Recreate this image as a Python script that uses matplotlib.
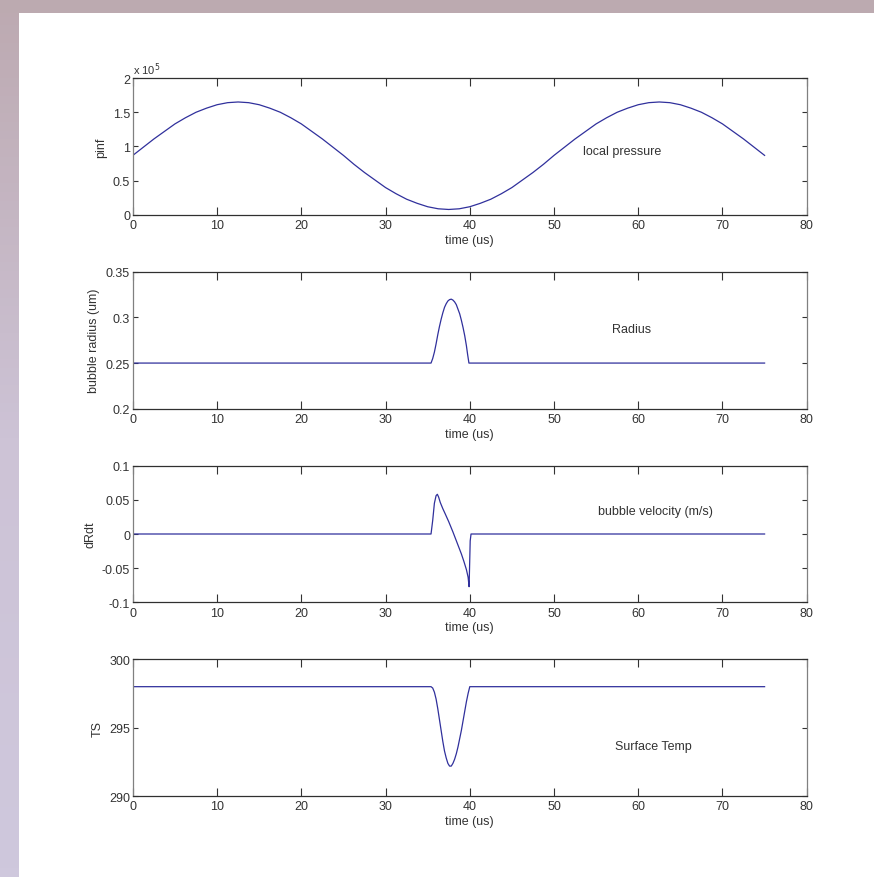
import matplotlib
matplotlib.use('Agg')
import matplotlib.pyplot as plt
import numpy as np
from matplotlib.colors import LinearSegmentedColormap
from matplotlib.ticker import FuncFormatter

plt.rcParams['font.family'] = ['Liberation Sans Narrow', 'DejaVu Sans Condensed', 'Liberation Sans', 'DejaVu Sans']

# local pressure (pinf), read every 1.25 us
t_p = [i * 1.25 for i in range(61)]
pinf = [0.87e5, 0.99e5, 1.11e5, 1.22e5, 1.33e5, 1.42e5, 1.50e5, 1.56e5, 1.61e5, 1.64e5,
        1.65e5, 1.64e5, 1.61e5, 1.56e5, 1.50e5, 1.42e5, 1.33e5, 1.22e5, 1.11e5, 0.99e5,
        0.87e5, 0.74e5, 0.62e5, 0.51e5, 0.40e5, 0.31e5, 0.23e5, 0.17e5, 0.12e5, 0.09e5,
        0.08e5, 0.09e5, 0.12e5, 0.17e5, 0.23e5, 0.31e5, 0.40e5, 0.51e5, 0.62e5, 0.74e5,
        0.87e5, 0.99e5, 1.11e5, 1.22e5, 1.33e5, 1.42e5, 1.50e5, 1.56e5, 1.61e5, 1.64e5,
        1.65e5, 1.64e5, 1.61e5, 1.56e5, 1.50e5, 1.42e5, 1.33e5, 1.22e5, 1.11e5, 0.99e5,
        0.87e5]

# bubble radius
t_r = [0, 35.4, 35.6, 35.8, 36.0, 36.2, 36.4, 36.6, 36.8, 37.0, 37.2, 37.4, 37.6, 37.8,
       38.0, 38.2, 38.4, 38.6, 38.8, 39.0, 39.2, 39.4, 39.6, 39.75, 39.9, 75]
radius = [0.25, 0.25, 0.255, 0.262, 0.271, 0.281, 0.290, 0.298, 0.305, 0.311, 0.315,
          0.318, 0.3195, 0.320, 0.319, 0.317, 0.314, 0.309, 0.304, 0.297, 0.289,
          0.280, 0.269, 0.259, 0.25, 0.25]

# bubble velocity
t_v = [0, 35.4, 35.6, 35.8, 36.0, 36.15, 36.3, 36.5, 36.8, 37.1, 37.5, 38.0, 38.5,
       39.0, 39.3, 39.6, 39.8, 39.92, 40.05, 40.15, 75]
dRdt = [0, 0, 0.02, 0.045, 0.056, 0.058, 0.054, 0.046, 0.037, 0.029, 0.018, 0.003,
        -0.013, -0.029, -0.040, -0.052, -0.063, -0.077, -0.01, 0.0, 0.0]

# surface temperature
t_s = [0, 35.4, 35.6, 35.8, 36.0, 36.2, 36.4, 36.6, 36.8, 37.0, 37.2, 37.4, 37.6,
       37.8, 38.0, 38.2, 38.4, 38.6, 38.8, 39.0, 39.2, 39.4, 39.6, 39.8, 40.0, 75]
TS = [298, 298, 297.9, 297.6, 297.1, 296.4, 295.6, 294.8, 294.0, 293.3, 292.8, 292.4,
      292.2, 292.2, 292.4, 292.7, 293.1, 293.6, 294.2, 294.8, 295.5, 296.2, 296.9,
      297.5, 298, 298]

panels = [
    (t_p, pinf, 'pinf', (0, 2e5), [0, 0.5e5, 1e5, 1.5e5, 2e5], 'local pressure', (53.4, 0.93e5)),
    (t_r, radius, 'bubble radius (um)', (0.2, 0.35), [0.2, 0.25, 0.3, 0.35], 'Radius', (56.9, 0.287)),
    (t_v, dRdt, 'dRdt', (-0.1, 0.1), [-0.1, -0.05, 0, 0.05, 0.1], 'bubble velocity (m/s)', (55.2, 0.033)),
    (t_s, TS, 'TS', (290, 300), [290, 295, 300], 'Surface Temp', (57.2, 293.7)),
]

fig, axes = plt.subplots(4, 1, figsize=(8.74, 8.78), dpi=100)
fig.subplots_adjust(left=0.152, right=0.923, top=0.910, bottom=0.092, hspace=0.415)

# purple frame on the top and left
bg = fig.add_axes([0, 0, 0.0217, 1], zorder=-5)
cmap = LinearSegmentedColormap.from_list('side', ['#cfc8dd', '#cdc3d6', '#bdaab1'])
bg.imshow(np.linspace(0, 1, 100).reshape(-1, 1), aspect='auto', cmap=cmap, origin='lower')
bg.axis('off')
top = fig.add_axes([0, 1 - 14 / 878, 1, 14 / 878], zorder=-5)
top.set_facecolor('#bcaab0')
top.set_xticks([])
top.set_yticks([])
for s in top.spines.values():
    s.set_visible(False)

txt = '#333333'
for ax, (t, y, ylab, ylim, yticks, note, pos) in zip(axes, panels):
    ax.plot(t, y, color='#30309c', lw=0.9)
    ax.set_xlim(0, 80)
    ax.set_ylim(*ylim)
    ax.set_xticks(range(0, 81, 10))
    ax.set_yticks(yticks)
    ax.tick_params(axis='x', direction='in', top=True, length=5.5, width=0.8,
                   labelsize=9, colors=txt, pad=3)
    ax.tick_params(axis='y', direction='in', right=True, length=3.5, width=0.8,
                   labelsize=9, colors=txt, pad=2)
    for side in ['top', 'bottom']:
        ax.spines[side].set_color('#303030')
    for side in ['left', 'right']:
        ax.spines[side].set_color('#808080')
    for s in ax.spines.values():
        s.set_linewidth(0.9)
    ax.set_xlabel('time (us)', fontsize=9, color=txt, labelpad=2)
    ax.set_ylabel(ylab, fontsize=9, color=txt, labelpad=4)
    ax.text(pos[0], pos[1], note, fontsize=9, color=txt, va='center', ha='left')

axes[0].yaxis.set_major_formatter(FuncFormatter(lambda v, p: '%g' % (v / 1e5)))
axes[0].text(0, 1.01, r'x 10$^5$', transform=axes[0].transAxes, fontsize=8, color=txt,
             va='bottom', ha='left')
for ax in axes[1:]:
    ax.yaxis.set_major_formatter(FuncFormatter(lambda v, p: '%g' % v))

fig.savefig('out.png', dpi=100, facecolor='white')
